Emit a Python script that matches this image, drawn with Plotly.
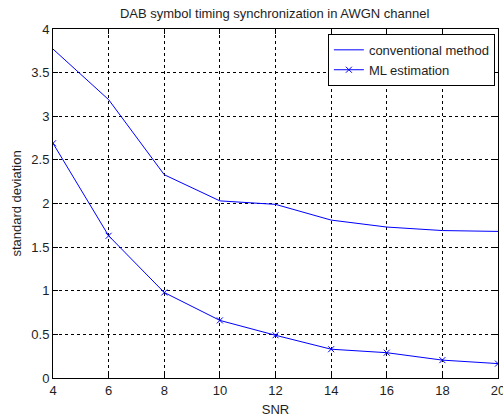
import plotly.graph_objects as go

# SNR values (dB) and standard deviation of the timing estimate
snr = [4, 6, 8, 10, 12, 14, 16, 18, 20]
conventional_std = [3.77, 3.19, 2.33, 2.03, 1.99, 1.81, 1.73, 1.69, 1.68]
ml_std = [2.69, 1.63, 0.98, 0.66, 0.49, 0.33, 0.29, 0.205, 0.165]

x_ticks = [4, 6, 8, 10, 12, 14, 16, 18, 20]
y_ticks = [0, 0.5, 1, 1.5, 2, 2.5, 3, 3.5, 4]

font_family = "Liberation Sans, Arial, sans-serif"
text_color = "rgb(30,30,30)"
blue = "rgb(0,0,255)"
fsize = 13

fig = go.Figure()
fig.add_trace(go.Scatter(
    x=snr, y=conventional_std, mode="lines", name="conventional method",
    line=dict(color=blue, width=1),
))
fig.add_trace(go.Scatter(
    x=snr, y=ml_std, mode="lines+markers", name="ML estimation",
    line=dict(color=blue, width=1),
    marker=dict(symbol="x-thin", size=6, line=dict(color=blue, width=1)),
))

axis_common = dict(
    showline=True, linecolor="black", linewidth=1, mirror="allticks",
    ticks="inside", ticklen=5, tickcolor="black",
    showgrid=True, gridcolor="black", gridwidth=1, griddash="3px,3px",
    zeroline=False, automargin=False,
    tickfont=dict(size=fsize, color=text_color, family=font_family),
)

fig.update_xaxes(
    range=[4, 20], tickvals=x_ticks, ticktext=[str(v) for v in x_ticks],
    ticklabeloverflow="allow",
    title=dict(text="SNR", font=dict(size=fsize, color=text_color, family=font_family), standoff=8),
    **axis_common,
)
fig.update_yaxes(
    range=[0, 4], tickvals=y_ticks, ticktext=[f"{v:g}" for v in y_ticks],
    title=dict(text="standard deviation", font=dict(size=fsize, color=text_color, family=font_family), standoff=6),
    **axis_common,
)

fig.update_layout(
    width=503, height=420,
    margin=dict(l=53, r=5, t=29, b=42),
    paper_bgcolor="white", plot_bgcolor="white",
    font=dict(family=font_family, size=fsize, color=text_color),
    title=dict(text="DAB symbol timing synchronization in AWGN channel",
               x=0.546, xanchor="center", y=0.967, yanchor="middle",
               font=dict(size=fsize, color=text_color, family=font_family)),
    legend=dict(
        x=0.993, y=0.986, xanchor="right", yanchor="top",
        bgcolor="white", bordercolor="black", borderwidth=1,
        font=dict(size=fsize, color=text_color, family=font_family),
        tracegroupgap=0, itemwidth=30,
    ),
    showlegend=True,
)

fig.write_html("out.html")
